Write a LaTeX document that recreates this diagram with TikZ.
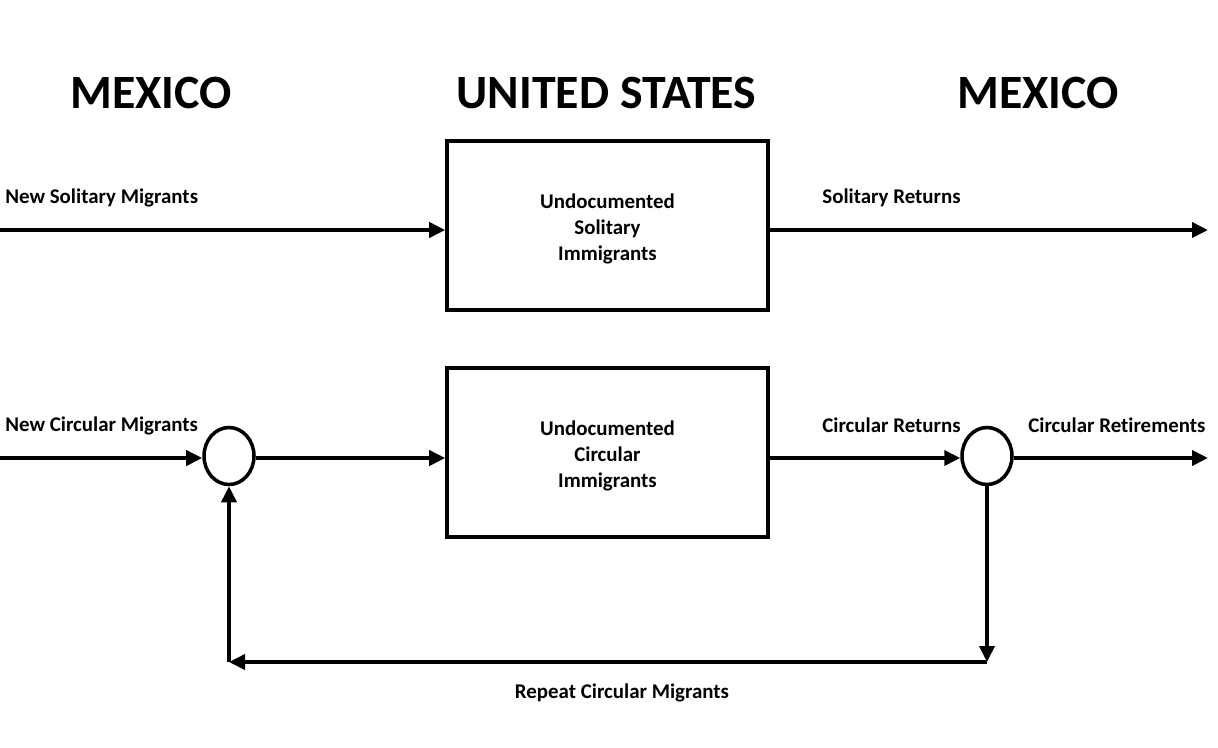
\documentclass[tikz,border=0pt]{standalone}
\usepackage{fontspec}
\setmainfont{Carlito}[Ligatures=NoCommon]
\usepackage{tikz}
\usetikzlibrary{arrows.meta,shapes.geometric}

\begin{document}
\begin{tikzpicture}[
                every node/.style={align=center, font=\bfseries\fontsize{11.9}{14.8}\selectfont},
                title node/.style={font=\bfseries\fontsize{27.2}{30}\selectfont},
                stock node/.style={draw, line width=2pt, minimum width=6.42cm, minimum height=3.38cm},
                sum node/.style={draw, ellipse, line width=2pt, minimum width=1cm, minimum height=1.14cm, inner sep=0pt},
                label node/.style={anchor=west, inner sep=0pt},
                flow/.style={line width=2.1pt, -{Triangle[length=0.32cm,width=0.3cm]}}
            ]
            \useasboundingbox (0,0) rectangle (24.36,-14.94);

            % Titles
            \node[title node] (MX1) at (3.02,-1.86) {MEXICO};
            \node[title node] (US) at (12.13,-1.86) {UNITED STATES};
            \node[title node] (MX2) at (20.76,-1.86) {MEXICO};

            % Nodes
            \node[stock node] (S) at (12.15,-4.51) {\\[-2pt]Undocumented\\Solitary\\Immigrants};
            \node[stock node] (C) at (12.15,-9.05) {\\[-2pt]Undocumented\\Circular\\Immigrants};
            \node[sum node] (J) at (4.58,-9.12) {};
            \node[sum node] (R) at (19.74,-9.12) {};

            % Free ends
            \coordinate (inS) at (0,-4.6);
            \coordinate (outS) at (24.16,-4.6);
            \coordinate (inC) at (0,-9.16);
            \coordinate (outC) at (24.16,-9.16);
            \coordinate (RB) at (19.74,-13.24);
            \coordinate (JB) at (4.58,-13.24);

            % Edges
            \draw[flow] (inS) -- (inS -| S.west);
            \draw[flow] (inS -| S.east) -- (outS);
            \draw[flow] (inC) -- (inC -| J.west);
            \draw[flow] (inC -| J.east) -- (inC -| C.west);
            \draw[flow] (inC -| C.east) -- (inC -| R.west);
            \draw[flow] (inC -| R.east) -- (outC);
            \draw[flow] (R.south) -- (RB);
            \draw[flow] (RB) -- (JB);
            \draw[flow] (JB) -- (J.south);

            % Labels
            \node[label node] (lNS) at (0.1,-3.95) {New Solitary Migrants};
            \node[label node] (lSR) at (16.44,-3.95) {Solitary Returns};
            \node[label node] (lNC) at (0.1,-8.52) {New Circular Migrants};
            \node[label node] (lCR) at (16.44,-8.5) {Circular Returns};
            \node[label node] (lRt) at (20.56,-8.5) {Circular Retirements};
            \node (lRp) at (12.44,-13.86) {Repeat Circular Migrants};

            \end{tikzpicture}
\end{document}
